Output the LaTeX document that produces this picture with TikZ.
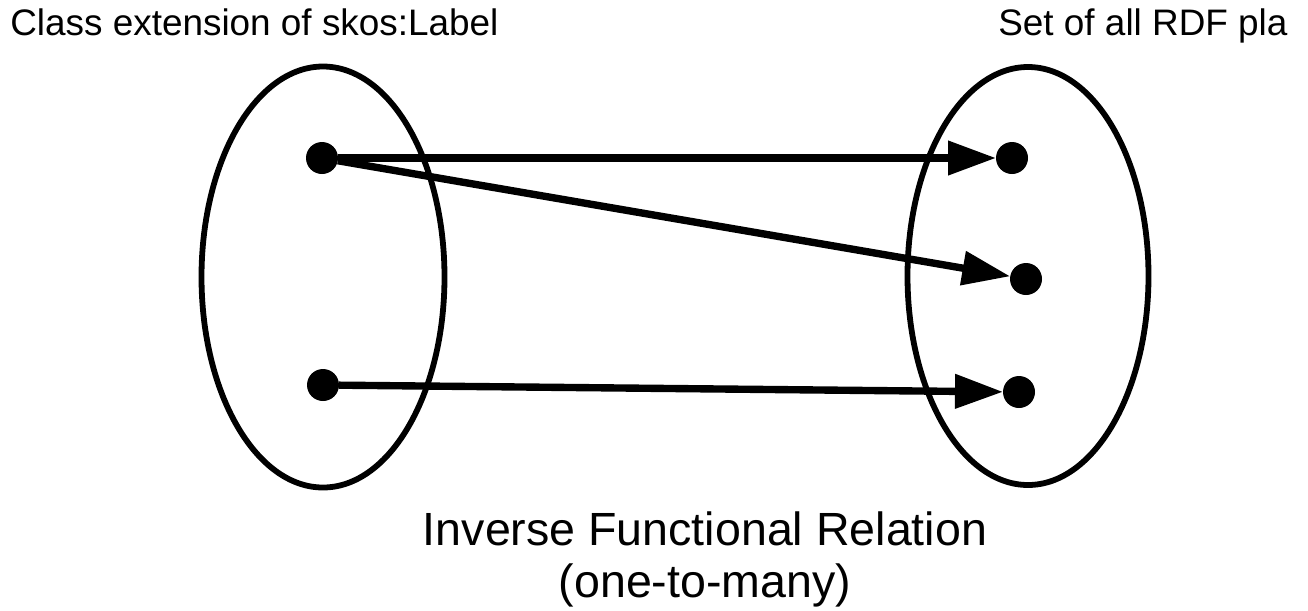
\documentclass[tikz,border=0pt]{standalone}
\usepackage{fontspec}
\setmainfont{Liberation Sans}
\usetikzlibrary{arrows.meta}
\tikzset{dot/.style = {shape = circle, fill, inner sep = 0pt, outer sep = 0pt, minimum size = 0.64cm}}
\tikzset{set/.style = {line width = 3.3pt}}
\tikzset{edge/.style = {line width = 4.2pt, -{Triangle[length = 0.96cm, width = 0.66cm]}}}
\tikzset{caption/.style = {inner sep = 0pt, font = \fontsize{21}{25}\selectfont}}

\begin{document}
\begin{tikzpicture}[x = 0.02cm, y = -0.02cm]
	\useasboundingbox (0, 0) rectangle (1308, 610);

	\node[caption, anchor = base west] (dom) at (10, 35) {Class extension of skos:Label};
	\node[caption, anchor = base west] (rng) at (998, 35) {Set of all RDF pla};

	\draw[set] (323, 277) ellipse [x radius = 121.5, y radius = 210.5];
	\draw[set] (1028, 276) ellipse [x radius = 120.5, y radius = 209];

	\node[dot] (a) at (322, 158) {};
	\node[dot] (b) at (1012, 158) {};
	\node[dot] (c) at (1026, 279) {};
	\node[dot] (d) at (323, 385) {};
	\node[dot] (e) at (1019, 392) {};

	\draw[edge] (a) -- (b);
	\draw[edge] (a) -- (c);
	\draw[edge] (d) -- (e);

	\node[caption, anchor = base, font = \fontsize{26.5}{32}\selectfont] (rel) at (705, 545) {Inverse Functional Relation};
	\node[caption, anchor = base, font = \fontsize{26.5}{32}\selectfont] (kind) at (705, 597) {(one-to-many)};
\end{tikzpicture}
\end{document}
